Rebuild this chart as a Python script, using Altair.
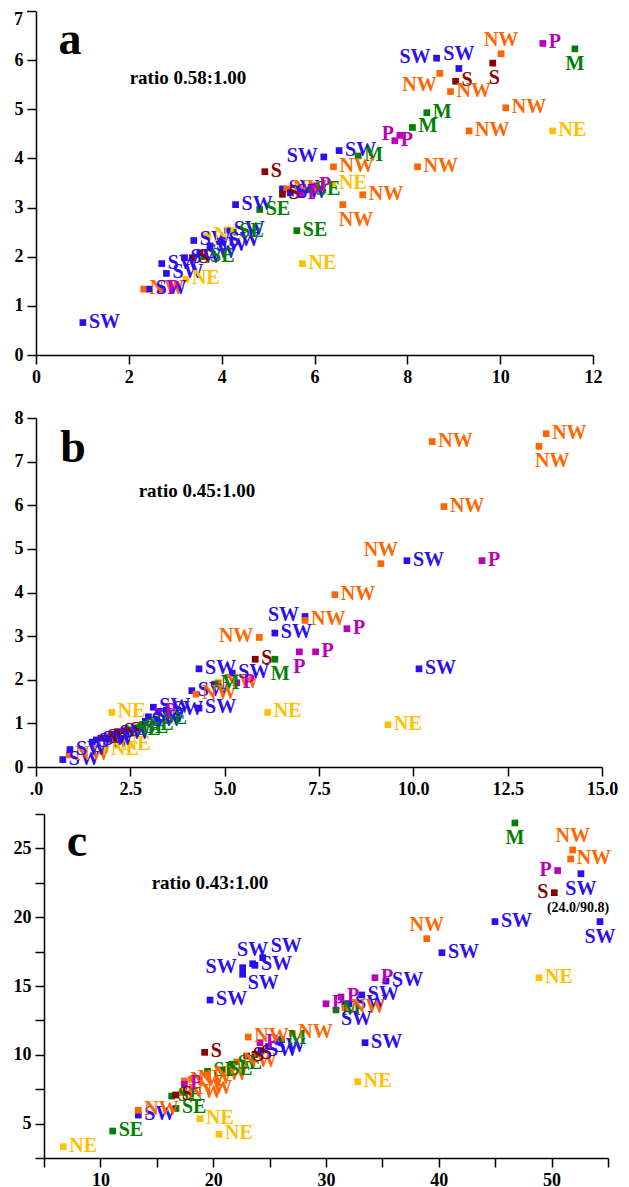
import altair as alt
import pandas as pd

FONT = "Liberation Serif"
CAT = ["SW", "NW", "P", "M", "SE", "S", "NE"]
CAT_COLORS = ["#2a0ff0", "#ff6600", "#bb00bb", "#008000", "#008000", "#8b0000", "#ffc000"]

# ---------------- panel a ----------------
a_x = [1.01, 2.32, 2.45, 2.70, 2.71, 2.81, 3.23, 3.20, 3.37, 3.40, 3.53, 3.62, 3.70, 3.75,
       4.02, 4.13, 4.25, 4.30, 4.82, 4.93, 5.31, 5.40, 5.31, 5.48, 5.72, 5.90, 5.97, 5.62,
       5.74, 6.20, 6.53, 6.94, 6.41, 6.40, 7.04, 6.61, 7.73, 7.84, 8.11, 8.42, 8.22, 9.33,
       10.12, 11.13, 8.63, 9.11, 8.70, 9.04, 8.93, 10.02, 9.84, 10.92, 11.61]
a_y = [0.66, 1.34, 1.34, 1.34, 1.86, 1.66, 1.54, 1.98, 1.98, 2.33, 2.08, 2.00, 2.42, 2.22,
       2.32, 2.54, 2.50, 3.06, 2.96, 3.73, 3.38, 3.38, 3.27, 3.30, 3.27, 3.36, 3.44, 2.53,
       1.86, 4.03, 4.16, 4.05, 3.83, 3.47, 3.26, 3.06, 4.36, 4.47, 4.63, 4.93, 3.83, 4.56,
       5.03, 4.56, 6.04, 5.83, 5.73, 5.57, 5.36, 6.13, 5.94, 6.34, 6.23]
a_lab = ["SW", "NW", "SW", "P", "SW", "SW", "NE", "SW", "S", "SW", "SW", "SE", "NE", "SW",
         "SW", "SW", "SE", "SW", "SE", "S", "SW", "NW", "S", "SW", "P", "SE", "P", "SE",
         "NE", "SW", "SW", "M", "NW", "NE", "NW", "NW", "P", "P", "M", "M", "NW", "NW",
         "NW", "NE", "SW", "SW", "NW", "S", "NW", "NW", "S", "P", "M"]
a_place = ["r", "r", "r", "r", "r", "r", "r", "r", "r", "r", "r", "r", "r", "r",
           "r", "r", "r", "r", "r", "r", "r", "r", "r", "r", "r", "r", "r", "r",
           "r", "l", "r", "r", "r", "r", "r", "br", "r", "l", "r", "r", "r", "r",
           "r", "r", "l", "t", "lb", "r", "r", "t", "br", "r", "b"]

# ---------------- panel b ----------------
b_x = [0.71, 0.88, 0.90, 1.49, 1.83, 2.14, 1.72, 1.90, 2.16, 2.34, 1.60, 2.05, 2.50, 2.70,
       2.84, 2.90, 2.98, 3.20, 3.11, 3.24, 3.45, 2.01, 4.32, 4.13, 4.24, 4.32, 4.83, 4.74,
       5.32, 5.20, 5.81, 6.33, 5.92, 6.33, 6.14, 6.98, 7.41, 7.13, 7.13, 8.24, 7.92, 9.14,
       9.83, 11.82, 10.15, 9.33, 10.81, 10.50, 13.52, 13.33]
b_y = [0.17, 0.28, 0.40, 0.57, 0.39, 0.50, 0.66, 0.66, 0.81, 0.83, 0.62, 0.75, 0.85, 0.90,
       0.96, 1.05, 1.15, 1.10, 1.37, 1.27, 1.30, 1.25, 1.35, 1.75, 1.67, 2.25, 1.93, 1.90,
       1.93, 2.15, 2.47, 2.47, 2.97, 3.07, 1.25, 2.64, 2.64, 3.45, 3.36, 3.17, 3.95, 4.66,
       4.73, 4.73, 2.25, 0.97, 5.97, 7.46, 7.64, 7.35]
b_lab = ["SW", "NW", "SW", "SW", "NE", "NE", "S", "S", "S", "S", "SW", "SW", "SE", "SE",
         "SE", "SW", "SW", "SE", "SW", "P", "SW", "NE", "SW", "SW", "NW", "SW", "NW", "M",
         "P", "SW", "S", "M", "NW", "SW", "NE", "P", "P", "SW", "NW", "P", "NW", "NW",
         "SW", "P", "SW", "NE", "NW", "NW", "NW", "NW"]
b_place = ["r", "r", "r", "r", "r", "r", "r", "r", "r", "r", "r", "r", "r", "r",
           "r", "r", "r", "r", "r", "r", "r", "r", "r", "r", "r", "r", "r", "r",
           "r", "r", "r", "br", "l", "r", "r", "b", "r", "l", "r", "r", "r", "t",
           "r", "r", "r", "r", "r", "r", "r", "br"]

# ---------------- panel c ----------------
c_x = [6.71, 11.09, 13.36, 13.36, 18.83, 20.51, 19.24, 19.72, 22.61, 22.61, 23.50, 23.70,
       24.39, 16.32, 16.70, 16.67, 17.26, 17.44, 17.44, 18.09, 18.10, 19.50, 19.50, 20.80,
       21.64, 22.08, 22.97, 23.71, 24.24, 24.90, 24.15, 23.11, 26.07, 27.01, 30.00, 31.33,
       31.68, 32.04, 30.89, 31.68, 33.17, 34.34, 35.32, 33.46, 32.81, 38.93, 40.28, 44.98,
       48.88, 46.75, 51.87, 51.69, 50.54, 52.60, 50.24, 54.29]
c_y = [3.32, 4.46, 5.62, 5.97, 5.36, 4.22, 10.18, 13.98, 16.33, 15.85, 16.62, 16.50,
       17.06, 7.00, 6.10, 7.08, 7.25, 8.10, 7.85, 8.22, 7.50, 8.80, 8.55, 8.90,
       9.31, 9.48, 9.91, 10.03, 10.28, 10.60, 10.88, 11.29, 11.13, 11.56, 13.71, 14.20,
       13.71, 13.71, 13.26, 13.42, 14.35, 15.60, 15.36, 10.88, 8.05, 18.44, 17.42, 19.68,
       15.60, 26.85, 24.88, 24.23, 23.39, 23.16, 21.78, 19.68]
c_lab = ["NE", "SE", "SW", "NW", "NE", "NE", "S", "SW", "SW", "SW", "SW", "SW",
         "SW", "SE", "SE", "S", "NW", "NW", "P", "NW", "NW", "SE", "NW", "SE",
         "SE", "NW", "S", "S", "SW", "SW", "P", "NW", "M", "NW", "P", "P",
         "SW", "SW", "M", "NW", "SW", "P", "SW", "SW", "NE", "NW", "SW", "SW",
         "NE", "M", "NW", "NW", "P", "SW", "S", "SW"]
c_place = ["r", "r", "r", "r", "r", "r", "r", "r", "l", "rb", "t", "r",
           "tr", "r", "r", "r", "r", "r", "r", "r", "r", "r", "r", "r",
           "r", "r", "r", "r", "r", "r", "r", "r", "r", "r", "r", "r",
           "br", "r", "r", "r", "r", "r", "r", "r", "r", "t", "r", "r",
           "r", "b", "t", "r", "l", "b", "l", "b"]
c_note = "(24.0/90.8)"

a_xticks = [0, 2, 4, 6, 8, 10, 12]
a_yticks = [0, 1, 2, 3, 4, 5, 6]          # top tick (7) drawn separately
b_xticks = [0, 2.5, 5, 7.5, 10, 12.5, 15]
b_yticks = [0, 1, 2, 3, 4, 5, 6, 7, 8]
c_xticks = [5, 10, 15, 20, 25, 30, 35, 40, 45, 50, 55]
c_yticks = [2.5, 5, 7.5, 10, 12.5, 15, 17.5, 20, 22.5, 25, 27.5]

OFFS = {
    "r": ("left", 6, -1),
    "l": ("right", -6, -1),
    "t": ("center", 0, -14),
    "b": ("center", 0, 15),
    "br": ("left", -4, 15),
    "rb": ("left", 5, 9),
    "tr": ("left", 8, -12),
    "lb": ("right", -3, 12),
}

color_scale = alt.Scale(domain=CAT, range=CAT_COLORS)


def make_axis(values, label_expr=None, extent=None, offset=None):
    kw = dict(values=values, title=None, grid=False, domainColor="black", domainWidth=1.5,
              tickColor="black", tickWidth=1.5, tickSize=9, labelFont=FONT, labelFontSize=18,
              labelFontWeight="bold", labelColor="black", labelPadding=4, labelOverlap=False,
              labelFlush=False)
    if label_expr:
        kw["labelExpr"] = label_expr
    if extent is not None:
        kw["minExtent"] = extent
        kw["maxExtent"] = extent
    if offset is not None:
        kw["offset"] = offset
    return alt.Axis(**kw)


def txt(s, x, y, size, align="center", baseline="alphabetic"):
    return alt.Chart(pd.DataFrame({"t": [s]})).mark_text(
        font=FONT, fontWeight="bold", fontSize=size, align=align, baseline=baseline,
        color="black").encode(x=alt.value(x), y=alt.value(y), text="t:N")


def panel(xs, ys, labs, places, xdom, ydom, xax, yax, w, h, extras, xrange=None):
    df = pd.DataFrame({"x": xs, "y": ys, "lab": labs, "pl": places})
    xs_kw = dict(domain=xdom, nice=False, zero=False)
    if xrange is not None:
        xs_kw["range"] = xrange
    base = alt.Chart(df).encode(
        x=alt.X("x:Q", scale=alt.Scale(**xs_kw), axis=xax),
        y=alt.Y("y:Q", scale=alt.Scale(domain=ydom, nice=False, zero=False), axis=yax),
        color=alt.Color("lab:N", scale=color_scale, legend=None),
    )
    layers = [base.mark_square(size=45, opacity=1, filled=True)]
    for code, (align, dx, dy) in OFFS.items():
        if code not in places:
            continue
        layers.append(
            base.transform_filter(alt.datum.pl == code)
            .mark_text(align=align, dx=dx, dy=dy, baseline="middle", font=FONT,
                       fontWeight="bold", fontSize=20)
            .encode(text="lab:N")
        )
    layers.extend(extras)
    return alt.layer(*layers).properties(width=w, height=h)


top_tick = alt.Chart(pd.DataFrame({"t": [7]})).mark_rule(color="black", strokeWidth=1.5).encode(
    x=alt.value(-9), x2=alt.value(0), y=alt.value(0.5))

pa = panel(a_x, a_y, a_lab, a_place, [0, 12], [0, 7],
           make_axis(a_xticks), make_axis(a_yticks, extent=28),
           557, 344,
           [txt("a", 34, 43, 46), txt("ratio 0.58:1.00", 152, 73, 19),
            txt("7", -13, 0, 18, align="right", baseline="top"), top_tick])

pb = panel(b_x, b_y, b_lab, b_place, [0, 15], [0, 8],
           make_axis(b_xticks, "datum.value == 0 ? '.0' : format(datum.value, '.1f')"),
           make_axis(b_yticks, extent=28),
           566, 349,
           [txt("b", 37, 44, 46), txt("ratio 0.45:1.00", 161, 79, 19)])

pc = panel(c_x, c_y, c_lab, c_place, [5, 55], [2.5, 27.5],
           make_axis(c_xticks, "datum.value % 10 == 0 ? datum.label : ''"),
           make_axis(c_yticks, "datum.value % 5 == 0 ? datum.label : ''", extent=28, offset=-8),
           572, 344,
           [txt("c", 41, 42, 46), txt("ratio 0.43:1.00", 174, 75, 19),
            txt(c_note, 542, 94, 14, baseline="middle")],
           xrange=[8, 572])

chart = alt.vconcat(alt.vconcat(pa, pb, spacing=23), pc, spacing=7).configure_view(
    stroke=None).properties(padding={"left": 0, "top": 2, "right": 0, "bottom": 0})

chart.save("out.html", embed_options={"renderer": "svg", "actions": False})
